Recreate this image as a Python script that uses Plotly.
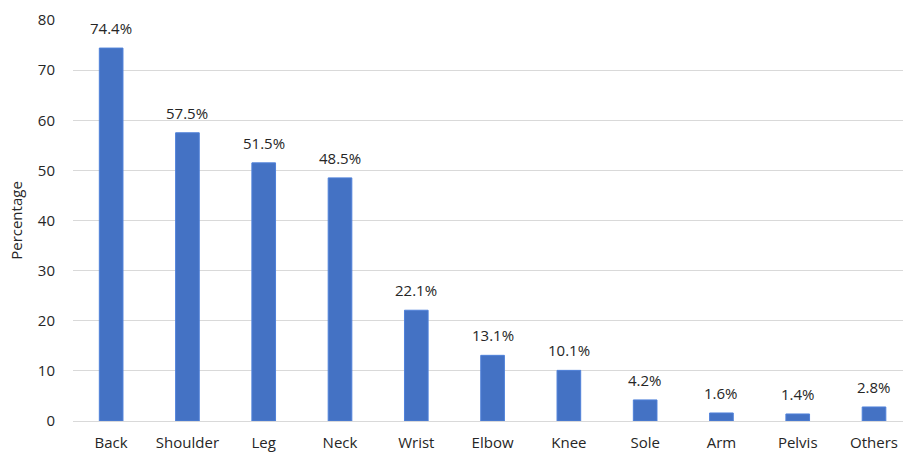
import plotly.graph_objects as go

categories = ["Back", "Shoulder", "Leg", "Neck", "Wrist", "Elbow", "Knee", "Sole", "Arm", "Pelvis", "Others"]
values = [74.4, 57.5, 51.5, 48.5, 22.1, 13.1, 10.1, 4.2, 1.6, 1.4, 2.8]
labels = [f"{v:.1f}%" for v in values]
y_ticks = [0, 10, 20, 30, 40, 50, 60, 70, 80]

font_family = "Open Sans, Noto Sans, Liberation Sans, sans-serif"

fig = go.Figure()
fig.add_trace(go.Bar(
    x=categories, y=values, width=0.31,
    marker=dict(color="#4472C4", line=dict(color="#4F81D9", width=1)),
    hoverinfo="skip",
))

for c, v, t in zip(categories, values, labels):
    fig.add_annotation(x=c, y=v, text=t, showarrow=False, yanchor="bottom",
                       yshift=8, font=dict(size=15, color="#262626", family=font_family))

fig.update_layout(
    width=903, height=455,
    margin=dict(l=73, r=0, t=20, b=34),
    paper_bgcolor="white", plot_bgcolor="white",
    showlegend=False,
    font=dict(family=font_family, size=15, color="#404040"),
    xaxis=dict(range=[-0.5, 10.38], showgrid=False, showline=False, ticks="",
               ticklabelstandoff=11, tickfont=dict(size=15, color="#262626")),
    yaxis=dict(range=[0, 80], tickvals=y_ticks, showgrid=True, gridcolor="#D9D9D9",
               gridwidth=1, zeroline=True, zerolinecolor="#D9D9D9", zerolinewidth=1,
               showline=False, ticks="", ticklabelstandoff=17,
               tickfont=dict(size=15, color="#262626"),
               title=dict(text="Percentage", font=dict(size=15, color="#262626"), standoff=11)),
)

fig.write_html("out.html")
